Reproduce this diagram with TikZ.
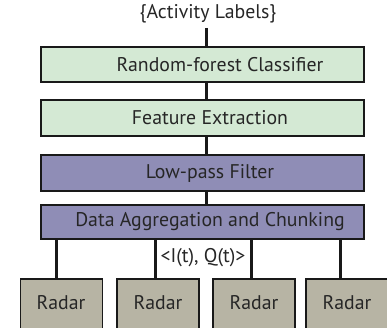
\documentclass[tikz,border=0pt]{standalone}
\usepackage{fontspec}
\setmainfont{PT Sans}
\definecolor{grn}{HTML}{D4E9D4}
\definecolor{prp}{HTML}{8F8DB6}
\definecolor{rdr}{HTML}{B7B4A4}
\begin{document}
\begin{tikzpicture}[x=1pt,y=-1pt,
  box/.style={draw=black!90,line width=1.8pt,minimum width=323pt,inner sep=0pt},
  rbox/.style={draw=black!90,line width=1.8pt,fill=rdr,minimum width=82pt,minimum height=80pt,inner sep=0pt,anchor=north},
  txt/.style={font=\fontsize{19.8}{21}\selectfont,text=black!85,inner sep=0pt},
  conn/.style={line width=3pt,draw=black!90}]
\useasboundingbox (0,0) rectangle (387,328);
\node[txt] (lab) at (208,14) {\{Activity Labels\}};
\node[box,fill=grn,minimum height=35pt] (rf) at (202.5,64.5) {};
\node[txt] (rft) at (220,64.5) {Random-forest Classifier};
\node[box,fill=grn,minimum height=36pt] (fe) at (202.5,118) {};
\node[txt] (fet) at (210,118) {Feature Extraction};
\node[box,fill=prp,minimum height=36pt] (lp) at (202.5,173) {};
\node[txt] (lpt) at (210,173) {Low-pass Filter};
\node[box,fill=prp,minimum height=34pt] (dac) at (202.5,222) {};
\node[txt] (dact) at (210,222) {Data Aggregation and Chunking};
\node[rbox] (r1) at (61.5,278) {};
\node[rbox] (r2) at (158,278) {};
\node[rbox] (r3) at (254,278) {};
\node[rbox] (r4) at (347,278) {};
\node[txt] (r1t) at (61,303) {Radar};
\node[txt] (r2t) at (158,303) {Radar};
\node[txt] (r3t) at (254,303) {Radar};
\node[txt] (r4t) at (347,303) {Radar};
\node[txt] (iq) at (203,258) {<I(t), Q(t)>};
\coordinate (top) at (206,28);
\draw[conn] (top) -- (top |- rf.north);
\draw[conn] (rf.south -| top) -- (fe.north -| top);
\draw[conn] (fe.south -| top) -- (lp.north -| top);
\draw[conn] (lp.south -| top) -- (dac.north -| top);
\foreach \i/\x in {1/56,2/155,3/251,4/340}{
  \coordinate (c\i) at (\x,239);
  \draw[conn] (c\i |- dac.south) -- (c\i |- r\i.north);
}
\end{tikzpicture}
\end{document}
